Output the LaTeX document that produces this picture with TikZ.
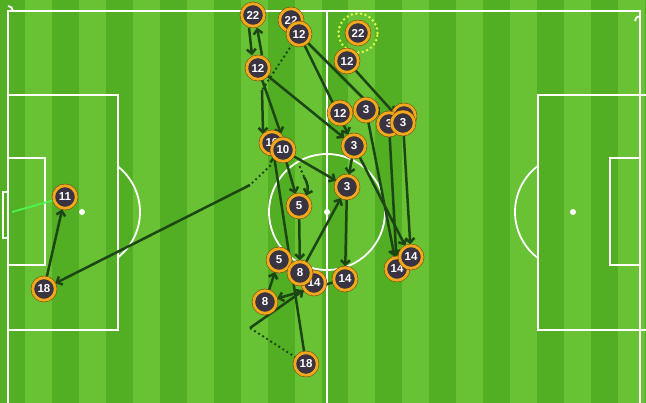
\documentclass[tikz,border=0pt]{standalone}
\usepackage{fontspec}
\setsansfont{Liberation Sans}
\usetikzlibrary{arrows.meta}
\pgfdeclarelayer{bg}
\pgfdeclarelayer{edges}
\pgfsetlayers{bg,edges,main}
\definecolor{grassL}{RGB}{104,194,52}
\definecolor{grassD}{RGB}{82,174,34}
\definecolor{passc}{RGB}{28,70,20}
\definecolor{ringc}{RGB}{242,168,26}
\definecolor{ringdark}{RGB}{120,80,20}
\definecolor{nodefill}{RGB}{58,52,66}
\definecolor{shotc}{RGB}{80,240,80}
\definecolor{hlc}{RGB}{225,248,70}
\tikzset{
  pl/.style={circle, fill=nodefill, draw=ringc, line width=2.8pt, minimum size=22.5pt, inner sep=0pt,
    text=white, font=\sffamily\bfseries\fontsize{11.5}{11.5}\selectfont,
    preaction={draw=ringdark, line width=4pt}},
  pass/.style={draw=passc, line width=2.5pt, -{Straight Barb[length=4.5pt,width=9pt]}},
  carry/.style={draw=passc, line width=2.7pt, line cap=round, dash pattern=on 0pt off 4.8pt},
  shot/.style={draw=shotc, line width=2pt},
  pline/.style={draw=white, line width=1.8pt},
  hl/.style={draw=hlc, line width=2.8pt, line cap=round, dash pattern=on 0pt off 4.6pt}
}
\begin{document}
\begin{tikzpicture}[x=1pt,y=-1pt]
\useasboundingbox (0,0) rectangle (646,403);
% players
\node[pl] (n22a) at (253,15) {22};
\node[pl] (n22b) at (291,20) {22};
\node[pl] (n12a) at (299,34) {12};
\node[pl] (n22c) at (358,33) {22};
\node[pl] (n12b) at (347,61) {12};
\node[pl] (n12c) at (258,68) {12};
\node[pl] (n12d) at (340,113) {12};
\node[pl] (n3a) at (366,110) {3};
\node[pl] (n3x) at (404,116) {};
\node[pl] (n3b) at (389,124) {3};
\node[pl] (n3c) at (403,123) {3};
\node[pl] (n3d) at (354,146) {3};
\node[pl] (n10a) at (272,143) {10};
\node[pl] (n10b) at (283,150) {10};
\node[pl] (n3e) at (347,187) {3};
\node[pl] (n5a) at (299,206) {5};
\node[pl] (n5b) at (279,260) {5};
\node[pl] (n14a) at (314,283) {14};
\node[pl] (n8a) at (300,273) {8};
\node[pl] (n14b) at (345,279) {14};
\node[pl] (n14c) at (397,269) {14};
\node[pl] (n14d) at (411,257) {14};
\node[pl] (n8b) at (265,302) {8};
\node[pl] (n18a) at (306,364) {18};
\node[pl] (n11) at (65,197) {11};
\node[pl] (n18b) at (44,289) {18};
% free ends
\coordinate (d2) at (262,90);
\coordinate (c1) at (250,185);
\coordinate (c2) at (270,166);
\coordinate (c3) at (300,167);
\coordinate (c4) at (304,177);
\coordinate (c5) at (250,328);
\coordinate (g1) at (12,212);
\begin{pgfonlayer}{bg}
\fill[grassD] (0,0) rectangle (646,403);
\foreach \i in {0,...,11} \fill[grassL] ({25+53.9*\i},0) rectangle ++(27,403);
\draw[pline] (8,403) -- (8,11) -- (640,11) -- (640,403);
\draw[pline] (327,11) -- (327,403);
\draw[pline] (327,212) circle (58pt);
\fill[white] (327,212) circle (3pt);
\draw[pline] (8,95) -- (118,95) -- (118,330) -- (8,330);
\draw[pline] (8,158) -- (45,158) -- (45,265) -- (8,265);
\draw[pline] (8,192) -- (3,192) -- (3,238) -- (8,238);
\fill[white] (82,212) circle (3pt);
\draw[pline] ([shift={(82,212)}]-51.6:58pt) arc (-51.6:51.6:58pt);
\draw[pline] (646,95) -- (538,95) -- (538,330) -- (646,330);
\draw[pline] (640,158) -- (610,158) -- (610,265) -- (640,265);
\fill[white] (573,212) circle (3pt);
\draw[pline] ([shift={(573,212)}]128.4:58pt) arc (128.4:231.6:58pt);
\draw[pline] (13,11) arc (0:90:5pt);
\draw[pline] (640,16) arc (90:180:5pt);
\end{pgfonlayer}
\begin{pgfonlayer}{edges}
\draw[hl] (n22c.center) circle (19.5pt);
\draw[pass] ([xshift=-4pt]n22a.south) -- ([xshift=-6pt]n12c.north);
\draw[pass] ([xshift=4pt]n12c.north) -- ([xshift=4pt]n22a.south);
\draw[carry] (n12a) -- (d2);
\draw[pass] (d2) -- (n10a.north west);
\draw[pass] (n12c) -- (n10a.north east);
\draw[pass] (n12c) -- (n3d);
\draw[pass] (n12a) -- (n3d);
\draw[pass] (n12a) -- (n3b);
\draw[pass] (n12b) -- (n3c);
\draw[pass] (n3b) -- (n14c);
\draw[pass] (n3c) -- (n14d);
\draw[pass] (n3a) -- (n14c);
\draw[pass] (n3d) -- (n14d);
\draw[pass] (n3d) -- (n3e);
\draw[pass] (n10b) -- (n3e);
\draw[pass] (n3e) -- (n14b);
\draw[pass] (n8a) -- (n3e);
\draw[pass] (n5a) -- (n8a);
\draw[carry] (c3) -- (c4);
\draw[pass] (c4) to[bend left=25] (n5a);
\draw[pass] (n18a) -- (n10a);
\draw[pass] (n10b) -- (n5a);
\draw[carry] (c2) -- (c1);
\draw[pass] (c1) -- (n18b);
\draw[pass] (n18b) -- (n11);
\draw[shot] (n11) -- (g1);
\draw[carry] (n18a) -- (c5);
\draw[pass] (c5) -- (n14a);
\draw[pass] (n14b) -- (n8b);
\draw[pass] (n8b) -- (n5b);
\end{pgfonlayer}
\end{tikzpicture}
\end{document}
